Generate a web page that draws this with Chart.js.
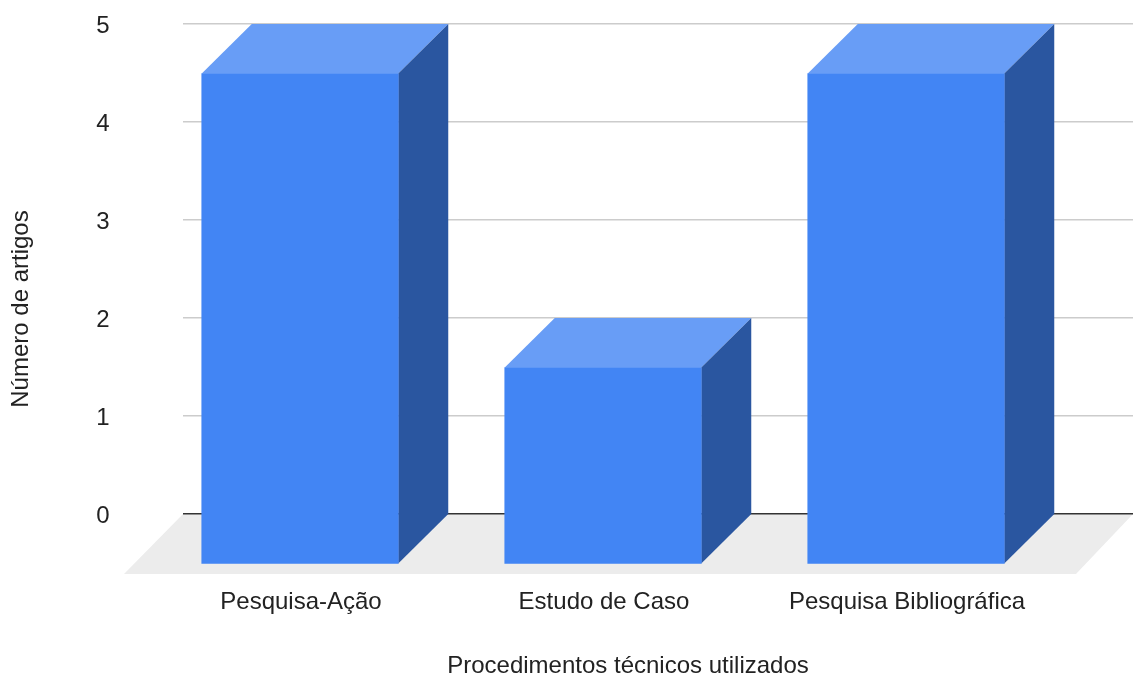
<!DOCTYPE html>
<html>
<head>
<meta charset="utf-8">
<style>
  html, body { margin: 0; padding: 0; background: #fff; }
  canvas { display: block; }
</style>
<script src="https://cdn.jsdelivr.net/npm/chart.js@4/dist/chart.umd.min.js"></script>
</head>
<body>
<canvas id="chart" width="1133" height="674"></canvas>
<script>
var categories = ['Pesquisa-Ação', 'Estudo de Caso', 'Pesquisa Bibliográfica'];
var artigos = [5, 2, 5];
var yTicks = [0, 1, 2, 3, 4, 5];

var xTitle = 'Procedimentos técnicos utilizados';
var yTitle = 'Número de artigos';

var font = '"Liberation Sans", Arial, sans-serif';
var textColor = '#222222';

// depth of the boxes and of the floor, in pixels
var depth = 50;
var drop = 49.5;
var gridLeft = 183;
var gridRight = 1133;
var floorLeft = 124;
var floorRight = 1076;
var floorBottom = 574;

var scene3d = {
	id: 'scene3d',
	beforeDatasetsDraw: function(chart) {
		var ctx = chart.ctx;
		var y = chart.scales.y;
		var zero = y.getPixelForValue(0);

		// floor
		ctx.fillStyle = '#ececec';
		ctx.beginPath();
		ctx.moveTo(gridLeft, zero);
		ctx.lineTo(gridRight, zero);
		ctx.lineTo(floorRight, floorBottom);
		ctx.lineTo(floorLeft, floorBottom);
		ctx.closePath();
		ctx.fill();

		// grid on the back wall
		yTicks.forEach(function(t) {
			var py = y.getPixelForValue(t) - 0.3;
			ctx.strokeStyle = t === 0 ? '#333333' : '#cccccc';
			ctx.lineWidth = 1.5;
			ctx.beginPath();
			ctx.moveTo(gridLeft, py);
			ctx.lineTo(gridRight, py);
			ctx.stroke();
		});

		// top and right faces of each box, front face comes from the dataset
		chart.getDatasetMeta(0).data.forEach(function(bar) {
			var left = bar.x - bar.width / 2;
			var right = bar.x + bar.width / 2;
			var top = bar.y + drop;
			var bottom = bar.base + drop;

			ctx.fillStyle = '#689df6';
			ctx.beginPath();
			ctx.moveTo(left, top);
			ctx.lineTo(left + depth, top - drop);
			ctx.lineTo(right + depth, top - drop);
			ctx.lineTo(right, top);
			ctx.closePath();
			ctx.fill();

			ctx.fillStyle = '#2a56a0';
			ctx.beginPath();
			ctx.moveTo(right, top);
			ctx.lineTo(right + depth, top - drop);
			ctx.lineTo(right + depth, bottom - drop);
			ctx.lineTo(right, bottom);
			ctx.closePath();
			ctx.fill();
		});

		// front faces sit nearer the viewer than the wall
		ctx.save();
		ctx.translate(0, drop);
	},
	afterDatasetsDraw: function(chart) {
		chart.ctx.restore();
	},
	afterDraw: function(chart) {
		// axis titles are centred on the whole scene, not on the chart area
		var ctx = chart.ctx;
		ctx.save();
		ctx.fillStyle = textColor;
		ctx.textAlign = 'center';
		ctx.textBaseline = 'middle';
		ctx.font = '24px ' + font;
		ctx.fillText(xTitle, 628, 666);
		ctx.translate(21, 309);
		ctx.rotate(-Math.PI / 2);
		ctx.fillText(yTitle, 0, 0);
		ctx.restore();
	}
};

new Chart(document.getElementById('chart'), {
	type: 'bar',
	plugins: [scene3d],
	data: {
		labels: categories,
		datasets: [{
			label: yTitle,
			data: artigos,
			backgroundColor: '#4285f4',
			borderWidth: 0,
			barThickness: 196.5,
			clip: false
		}]
	},
	options: {
		responsive: false,
		animation: false,
		layout: { padding: { top: 24, right: 75.5, bottom: 0, left: 0 } },
		plugins: {
			legend: { display: false },
			tooltip: { enabled: false }
		},
		scales: {
			x: {
				grid: { display: false },
				border: { display: false },
				afterFit: function(scale) { scale.height = 160; },
				ticks: {
					color: textColor,
					font: { family: font, size: 24 },
					padding: 66,
					labelOffset: 1,
					maxRotation: 0,
					autoSkip: false
				}
			},
			y: {
				min: 0,
				max: 5,
				grid: { display: false, drawTicks: false },
				border: { display: false },
				afterFit: function(scale) {
					scale.width = 148.5;
					scale.paddingTop = 0;
					scale.paddingBottom = 0;
				},
				afterBuildTicks: function(scale) {
					scale.ticks = yTicks.map(function(v) { return { value: v }; });
				},
				ticks: {
					color: textColor,
					font: { family: font, size: 24 },
					padding: 39,
					labelOffset: 2
				}
			}
		}
	}
});
</script>
</body>
</html>
